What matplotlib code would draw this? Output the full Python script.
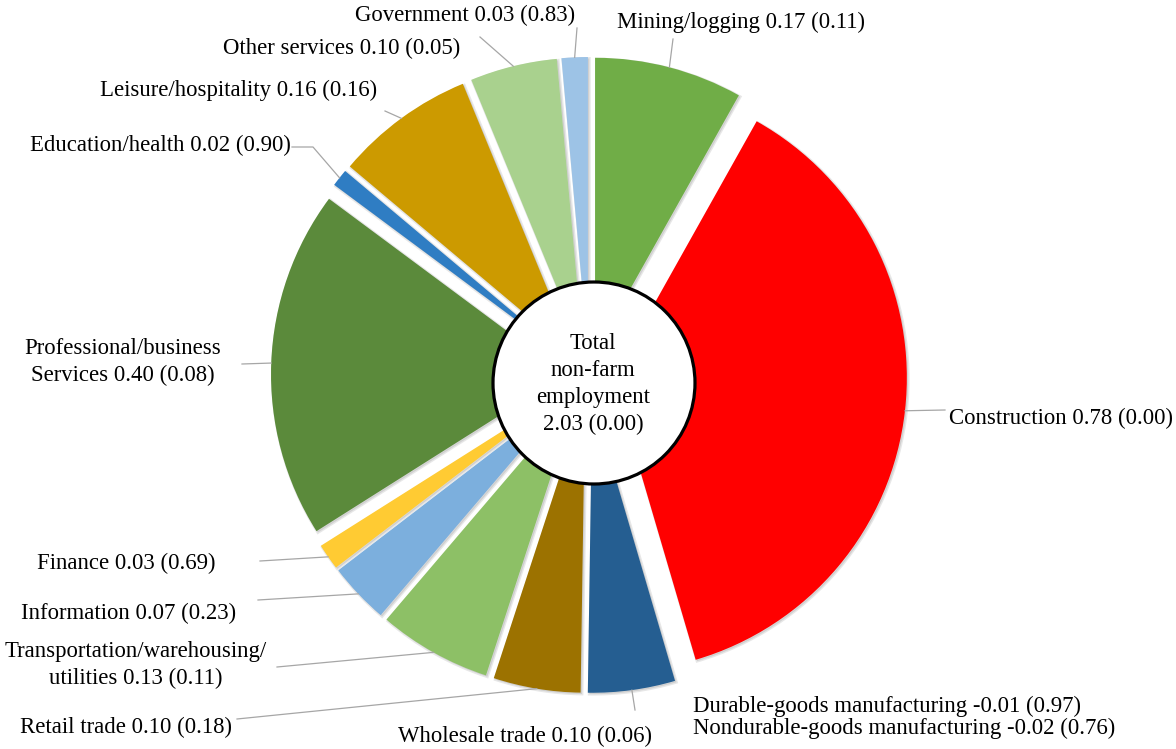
import numpy as np
import matplotlib.pyplot as plt
from matplotlib.patches import Circle, Shadow

# sector effects on employment and p-values
sectors = ["Mining/logging", "Construction", "Durable-goods manufacturing",
           "Nondurable-goods manufacturing", "Wholesale trade", "Retail trade",
           "Transportation/warehousing/\nutilities", "Information", "Finance",
           "Professional/business\nServices", "Education/health",
           "Leisure/hospitality", "Other services", "Government"]
effects = [0.17, 0.78, -0.01, -0.02, 0.10, 0.10, 0.13, 0.07, 0.03, 0.40,
           0.02, 0.16, 0.10, 0.03]
pvalues = [0.11, 0.00, 0.97, 0.76, 0.06, 0.18, 0.11, 0.23, 0.69, 0.08,
           0.90, 0.16, 0.05, 0.83]
total_name = "Total\nnon-farm\nemployment"
total_effect = 2.03
total_p = 0.00

colors = ["#70AD47", "#FF0000", None, None, "#255E91", "#9C7200",
          "#8DC066", "#7CAFDD", "#FFCB33", "#5B8A3B", "#2F7DC3",
          "#CC9A00", "#A9D18E", "#9DC3E6"]

W, H = 1176, 749
CX, CY = 589, 375      # pie centre (pixels, y down)
R = 294
EXP = 24

# label layout (pixels, y down): text centre, leader start
label_pos = {
    "Mining/logging": (741, 22, 673, 39),
    "Construction": (1061, 418, 945, 410),
    "Wholesale trade": (525, 736, 635, 710),
    "Retail trade": (126, 727, 237, 719),
    "Transportation/warehousing/\nutilities": (136, 665, 277, 667),
    "Information": (129, 613, 258, 600),
    "Finance": (126, 563, 260, 561),
    "Professional/business\nServices": (123, 362, 242, 364),
    "Education/health": (160, 145, 292, 147),
    "Leisure/hospitality": (239, 90, 385, 111),
    "Other services": (342, 48, 480, 37),
    "Government": (465, 15, 577, 28),
}
left_labels = {"Durable-goods manufacturing": (693, 706),
               "Nondurable-goods manufacturing": (693, 728)}

plt.rcParams['font.family'] = ['Liberation Serif', 'DejaVu Serif']
FS = 16.4

fig = plt.figure(figsize=(W / 100, H / 100), dpi=100)
ax = fig.add_axes([0, 0, 1, 1])

pos = [i for i, v in enumerate(effects) if v > 0]
sizes = [effects[i] for i in pos]
wedges, _ = ax.pie(sizes, colors=[colors[i] for i in pos], startangle=90,
                   counterclock=False, radius=R, center=(CX, H - CY),
                   explode=[EXP] * len(sizes),
                   wedgeprops=dict(linewidth=0))
for w in wedges:
    ax.add_patch(Shadow(w, 1.0, -1.0, facecolor="#9a9a9a",
                        edgecolor="#bbbbbb", linewidth=2, alpha=0.35))

for i, w in zip(pos, wedges):
    name = sectors[i]
    txt = f"{name} {effects[i]:.2f} ({pvalues[i]:.2f})"
    tx, ty, lx, ly = label_pos[name]
    ax.text(tx, H - ty, txt, fontsize=FS, ha="center", va="center",
            multialignment="center", linespacing=1.32)
    mid = np.radians((w.theta1 + w.theta2) / 2)
    ax_, ay_ = w.center[0] + w.r * np.cos(mid), w.center[1] + w.r * np.sin(mid)
    xs, ys = [lx], [H - ly]
    if name == "Education/health":
        xs.append(lx + 21)
        ys.append(H - ly)
    xs.append(ax_)
    ys.append(ay_)
    ax.plot(xs, ys, color="#a6a6a6", lw=0.9, zorder=1)

for i, name in enumerate(sectors):
    if name in left_labels:
        tx, ty = left_labels[name]
        ax.text(tx, H - ty, f"{name} {effects[i]:.2f} ({pvalues[i]:.2f})",
                fontsize=FS, ha="left", va="center")

ax.add_patch(Circle((594, H - 383), 101, facecolor="white",
                    edgecolor="black", lw=2.3, zorder=5))
ax.text(593, H - 384, f"{total_name}\n{total_effect:.2f} ({total_p:.2f})",
        fontsize=FS, ha="center", va="center", linespacing=1.36, zorder=6)

ax.set_xlim(0, W)
ax.set_ylim(0, H)
ax.set_aspect("equal")
ax.axis("off")

plt.savefig("out.png", dpi=100)
